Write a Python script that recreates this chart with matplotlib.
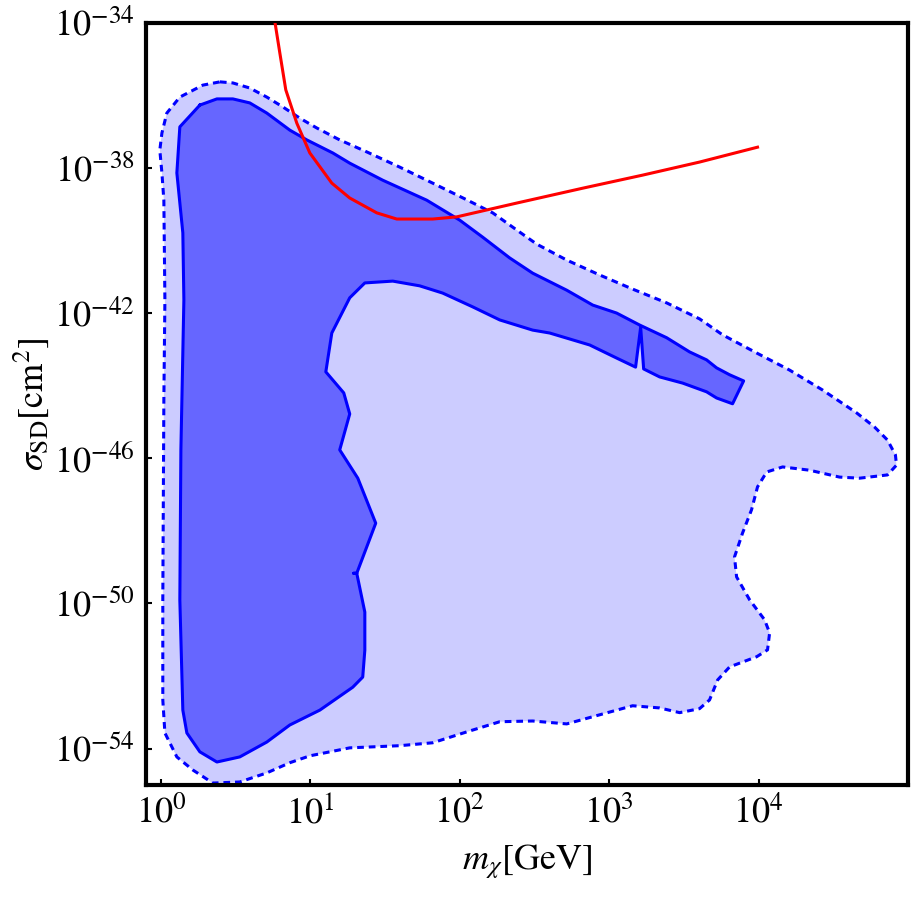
import numpy as np
import matplotlib
matplotlib.use('Agg')
import matplotlib.pyplot as plt

plt.rcParams['mathtext.fontset'] = 'stix'
plt.rcParams['font.family'] = 'STIXGeneral'

# outer (dashed) region, log10(m / GeV), log10(sigma / cm^2)
outer_lm = [0.395, 0.482, 0.595, 0.709, 0.816, 0.930, 1.043, 1.197, 1.378, 1.599,
            1.819, 2.047, 2.221, 2.381, 2.515, 2.716, 2.936, 3.157, 3.385, 3.605,
            3.759, 3.987, 4.207, 4.428, 4.656, 4.776, 4.863, 4.916, 4.923, 4.863,
            4.676, 4.542, 4.341, 4.161, 4.054, 3.993, 3.953, 3.893, 3.839, 3.853,
            3.940, 4.040, 4.074, 4.060, 3.987, 3.806, 3.726, 3.672, 3.605, 3.472,
            3.338, 3.157, 2.936, 2.716, 2.488, 2.268, 2.047, 1.819, 1.599, 1.264,
            0.997, 0.863, 0.709, 0.528, 0.348, 0.214, 0.107, 0.027, 0.013, 0.013,
            0.020, 0.027, 0.020, 0.007, -0.007, 0.007, 0.040, 0.127, 0.281]
outer_ls = [-35.63, -35.66, -35.80, -36.05, -36.32, -36.63, -36.90, -37.23, -37.56, -37.98,
            -38.42, -38.88, -39.24, -39.71, -40.10, -40.54, -40.95, -41.34, -41.72, -42.16,
            -42.60, -43.10, -43.57, -44.12, -44.75, -45.14, -45.50, -45.91, -46.19, -46.46,
            -46.55, -46.52, -46.33, -46.24, -46.38, -46.79, -47.42, -48.06, -48.72, -49.27,
            -49.90, -50.45, -50.81, -51.28, -51.47, -51.75, -52.11, -52.66, -52.90, -53.01,
            -52.88, -52.82, -53.07, -53.32, -53.24, -53.26, -53.54, -53.84, -53.92, -53.98,
            -54.20, -54.39, -54.67, -54.92, -54.95, -54.59, -54.23, -53.57, -52.66, -49.91,
            -44.40, -41.64, -38.89, -38.14, -37.51, -37.04, -36.49, -36.05, -35.72]

# inner (solid) region
inner_lm = [0.261, 0.127, 0.107, 0.147, 0.154, 0.134, 0.127, 0.147, 0.174, 0.261,
            0.375, 0.528, 0.709, 0.863, 1.064, 1.284, 1.351, 1.365, 1.365, 1.311,
            1.290, 1.311, 1.438, 1.318, 1.197, 1.264, 1.224, 1.104, 1.144, 1.264,
            1.365, 1.552, 1.732, 1.886, 2.087, 2.268, 2.488, 2.602, 2.870, 3.050,
            3.177, 3.211, 3.231, 3.338, 3.492, 3.652, 3.719, 3.826, 3.900, 3.806,
            3.719, 3.652, 3.538, 3.385, 3.204, 3.050, 2.890, 2.716, 2.488, 2.334,
            2.154, 2.000, 1.779, 1.485, 1.264, 1.151, 0.977, 0.863, 0.709, 0.595,
            0.482, 0.375]
inner_ls = [-36.27, -36.87, -38.14, -39.79, -41.64, -45.77, -49.91, -52.94, -53.57, -54.09,
            -54.37, -54.23, -53.82, -53.35, -52.94, -52.31, -52.03, -51.29, -50.24, -49.17,
            -49.17, -49.17, -47.79, -46.55, -45.77, -44.78, -44.20, -43.62, -42.55, -41.58,
            -41.17, -41.12, -41.25, -41.45, -41.83, -42.19, -42.47, -42.55, -42.88, -43.24,
            -43.49, -42.39, -43.54, -43.76, -43.93, -44.17, -44.34, -44.50, -43.87, -43.70,
            -43.51, -43.29, -43.07, -42.68, -42.33, -42.00, -41.78, -41.37, -40.90, -40.48,
            -39.91, -39.44, -38.89, -38.34, -37.87, -37.59, -37.23, -36.96, -36.49, -36.21,
            -36.10, -36.10]

# red limit curve
limit_lm = [0.756, 0.796, 0.836, 0.910, 0.997, 1.144, 1.264, 1.445, 1.579, 1.819,
            1.980, 2.381, 2.823, 3.224, 3.605, 3.993]
limit_ls = [-33.79, -34.83, -35.85, -36.77, -37.59, -38.42, -38.83, -39.24, -39.41, -39.41,
            -39.35, -38.97, -38.56, -38.20, -37.84, -37.43]

xtick_exp = [0, 1, 2, 3, 4]
ytick_exp = [-54, -50, -46, -42, -38, -34]

fig = plt.figure(figsize=(9.12, 8.97), dpi=100)
ax = fig.add_axes([0.160, 0.125, 0.8356, 0.8497])

om, os_ = 10**np.array(outer_lm), 10**np.array(outer_ls)
im, is_ = 10**np.array(inner_lm), 10**np.array(inner_ls)

ax.fill(om, os_, color='#ccccff', lw=0, zorder=1)
ax.plot(np.append(om, om[0]), np.append(os_, os_[0]), color='#0000ff', lw=2.2,
        ls=(0, (2.2, 1.6)), zorder=2)
ax.fill(im, is_, color='#6666ff', lw=0, zorder=3)
ax.plot(np.append(im, im[0]), np.append(is_, is_[0]), color='#0000ff', lw=2.2, zorder=4)
ax.plot(10**np.array(limit_lm), 10**np.array(limit_ls), color='#ff0000', lw=2.2, zorder=5)

ax.set_xscale('log')
ax.set_yscale('log')
ax.set_xlim(10**-0.1, 1e5)
ax.set_ylim(1e-55, 1e-34)

ax.set_xticks([10.0**e for e in xtick_exp])
ax.set_xticklabels([r'$10^{%d}$' % e for e in xtick_exp])
ax.set_yticks([10.0**e for e in ytick_exp])
ax.set_yticklabels([r'$10^{%d}$' % e for e in ytick_exp])
ax.minorticks_off()
ax.tick_params(direction='in', length=4, width=1.5, labelsize=26, pad=8)

for s in ax.spines.values():
    s.set_linewidth(3)

ax.set_xlabel(r'$m_{\chi}[\mathrm{GeV}]$', fontsize=26, labelpad=8)
ax.set_ylabel(r'$\sigma_{\mathrm{SD}}[\mathrm{cm}^2]$', fontsize=26, labelpad=2)

fig.savefig('out.png', dpi=100)
